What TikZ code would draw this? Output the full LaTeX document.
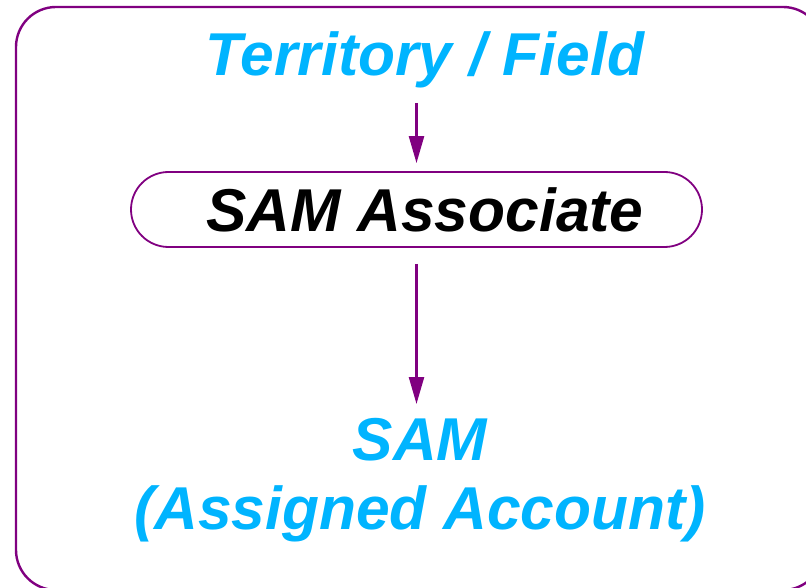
\documentclass[tikz,border=0pt]{standalone}
\usepackage{fontspec}
\setmainfont{Liberation Sans}
\usetikzlibrary{arrows.meta}
\definecolor{linepurple}{HTML}{800080}
\definecolor{skycyan}{HTML}{00B4FF}
\tikzset{
  frame/.style={draw=linepurple, line width=2.4pt, rounded corners=40pt},
  label/.style={inner sep=0pt, font=\fontsize{60.5}{69}\selectfont\bfseries\itshape, align=center},
  pill/.style={draw=linepurple, line width=1.8pt, rounded corners=37.5pt,
               minimum width=571pt, minimum height=75pt, inner sep=0pt},
  flow/.style={draw=linepurple, line width=2.4pt,
               -{Triangle[length=27pt,width=15pt]}}
}
\begin{document}
\begin{tikzpicture}[x=1pt,y=-1pt]
  \useasboundingbox (0,0) rectangle (806,588);
  \clip (0,0) rectangle (806,588);
  % outer frame, running past the right and bottom edges
  \draw[frame] (16,7) rectangle (823,590);
  % nodes
  \node[label, text=skycyan, anchor=base] (field) at (425,76) {Territory / Field};
  \node[pill] (assoc) at (416.5,209.5) {};
  \node[label, text=black, anchor=base] at (425,232) {SAM Associate};
  \node[label, text=skycyan, anchor=north] (sam) at (420,418)
    {SAM\\(Assigned Account)};
  % connectors
  \draw[flow, shorten <=14pt, shorten >=8pt] (assoc.north |- field.south) -- (assoc.north);
  \draw[flow, shorten <=16pt, shorten >=14pt] (assoc.south) -- (assoc.south |- sam.north);
\end{tikzpicture}
\end{document}
